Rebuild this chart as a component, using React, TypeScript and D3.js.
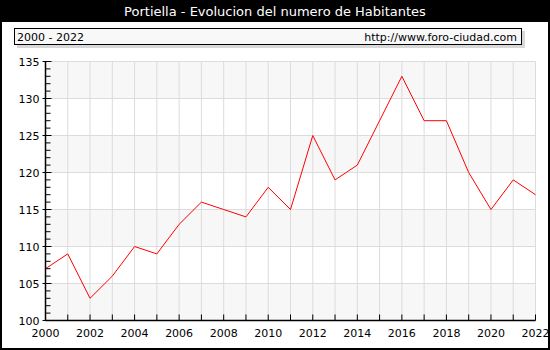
import React, { useEffect, useRef } from 'react';
import * as d3 from 'd3';

const YEARS = [2000, 2001, 2002, 2003, 2004, 2005, 2006, 2007, 2008, 2009, 2010, 2011,
  2012, 2013, 2014, 2015, 2016, 2017, 2018, 2019, 2020, 2021, 2022];
const HABITANTES = [107, 109, 103, 106, 110, 109, 113, 116, 115, 114, 118, 115,
  125, 119, 121, 127, 133, 127, 127, 120, 115, 119, 117];
const Y_TICKS = [100, 105, 110, 115, 120, 125, 130, 135];
const X_LABELS = [2000, 2002, 2004, 2006, 2008, 2010, 2012, 2014, 2016, 2018, 2020, 2022];

const TITLE = 'Portiella - Evolucion del numero de Habitantes';
const FONT = 'DejaVu Sans, Verdana, sans-serif';

export default function App() {
  const svgRef = useRef<SVGSVGElement>(null);

  useEffect(() => {
    if (!svgRef.current) return;
    const width = 550;
    const height = 350;
    const svg = d3.select(svgRef.current);
    svg.selectAll('*').remove();

    const x = d3.scaleLinear().domain([2000, 2022]).range([45.5, 535.5]);
    const y = d3.scaleLinear().domain([100, 135]).range([320.5, 61.5]);

    // outer frame
    svg.append('rect').attr('x', 0).attr('y', 0).attr('width', width).attr('height', height).attr('fill', '#000');
    svg.append('rect').attr('x', 2).attr('y', 22).attr('width', width - 4).attr('height', height - 24).attr('fill', '#fff');

    svg.append('text')
      .attr('x', width / 2).attr('y', 16)
      .attr('text-anchor', 'middle')
      .attr('fill', '#fff')
      .attr('font-family', FONT)
      .attr('font-size', 13)
      .text(TITLE);

    // header box with shadow
    svg.append('rect').attr('x', 17).attr('y', 31).attr('width', 508).attr('height', 17).attr('fill', '#d8d8d8');
    svg.append('rect').attr('x', 14.5).attr('y', 28.5).attr('width', 507).attr('height', 16)
      .attr('fill', '#f8f8f8').attr('stroke', '#000').attr('stroke-width', 1);
    svg.append('text').attr('x', 17).attr('y', 41).attr('font-family', FONT).attr('font-size', 11).text('2000 - 2022');
    svg.append('text').attr('x', 517).attr('y', 41).attr('text-anchor', 'end')
      .attr('font-family', FONT).attr('font-size', 11).text('http://www.foro-ciudad.com');

    // alternating bands
    const bands = d3.range(0, Y_TICKS.length - 1);
    svg.append('g').selectAll('rect').data(bands).enter().append('rect')
      .attr('x', x(2000)).attr('width', x(2022) - x(2000))
      .attr('y', i => y(Y_TICKS[i + 1]))
      .attr('height', i => y(Y_TICKS[i]) - y(Y_TICKS[i + 1]))
      .attr('fill', i => (i % 2 === 0 ? '#f7f7f7' : '#ffffff'));

    // grid
    svg.append('g').selectAll('line').data(YEARS.slice(1)).enter().append('line')
      .attr('x1', d => x(d)).attr('x2', d => x(d))
      .attr('y1', y(135)).attr('y2', y(100))
      .attr('stroke', '#dcdcdc').attr('stroke-width', 1);
    svg.append('g').selectAll('line').data(Y_TICKS.slice(1)).enter().append('line')
      .attr('x1', x(2000)).attr('x2', x(2022))
      .attr('y1', d => y(d)).attr('y2', d => y(d))
      .attr('stroke', '#dcdcdc').attr('stroke-width', 1);

    // line
    const line = d3.line<number>()
      .x((_, i) => x(YEARS[i]))
      .y(d => y(d));
    svg.append('path').datum(HABITANTES)
      .attr('d', line)
      .attr('fill', 'none')
      .attr('stroke', '#ff0000')
      .attr('stroke-width', 1);

    // axes
    const axes = svg.append('g').attr('stroke', '#000');
    axes.append('line').attr('x1', x(2000)).attr('x2', x(2000)).attr('y1', y(135)).attr('y2', y(100)).attr('stroke-width', 1.5);
    axes.append('line').attr('x1', x(2000)).attr('x2', x(2022)).attr('y1', y(100)).attr('y2', y(100)).attr('stroke-width', 1.5);
    axes.selectAll('line.minor').data(d3.range(100, 136)).enter().append('line')
      .attr('x1', d => (d % 5 === 0 ? x(2000) - 3 : x(2000)))
      .attr('x2', d => (d % 5 === 0 ? x(2000) + 6 : x(2000) + 5))
      .attr('y1', d => y(d)).attr('y2', d => y(d))
      .attr('stroke-width', 1);
    axes.selectAll('line.xt').data(YEARS).enter().append('line')
      .attr('x1', d => x(d)).attr('x2', d => x(d))
      .attr('y1', y(100)).attr('y2', y(100) - 6)
      .attr('stroke-width', 1);

    svg.append('g').selectAll('text').data(Y_TICKS).enter().append('text')
      .attr('x', x(2000) - 6).attr('y', d => y(d) + 4)
      .attr('text-anchor', 'end')
      .attr('font-family', FONT).attr('font-size', 11)
      .text(d => d);
    svg.append('g').selectAll('text').data(X_LABELS).enter().append('text')
      .attr('x', d => x(d)).attr('y', y(100) + 16)
      .attr('text-anchor', 'middle')
      .attr('font-family', FONT).attr('font-size', 11)
      .text(d => d);
  }, []);

  return (
    <div style={{ position: 'absolute', left: 0, top: 0 }}>
      <svg ref={svgRef} width={550} height={350} style={{ display: 'block' }} />
    </div>
  );
}
